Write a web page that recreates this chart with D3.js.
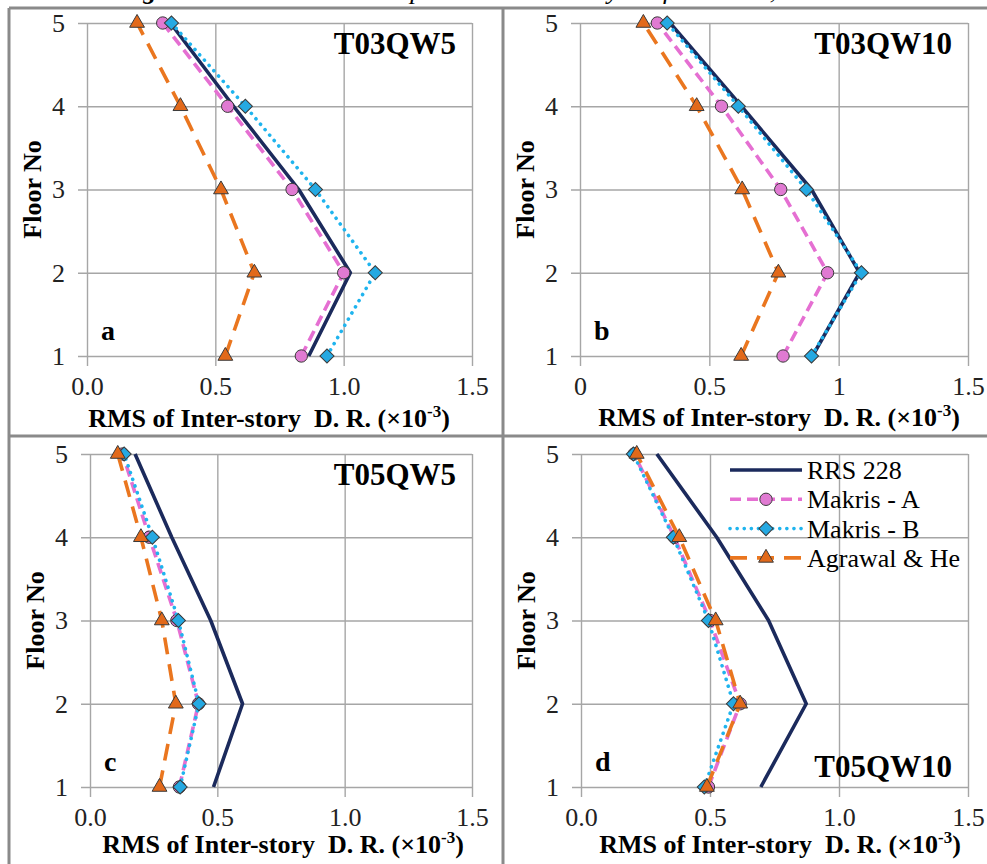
<!DOCTYPE html>
<html>
<head>
<meta charset="utf-8">
<script src="https://cdn.jsdelivr.net/npm/d3@7"></script>
<style>
  body { margin: 0; background: #fff; }
  svg { display: block; }
  svg text { font-family: "Liberation Serif", "Times New Roman", serif; }
</style>
</head>
<body>
<div id="chart"></div>
<script>
// floors and axis ticks
const floors = [1, 2, 3, 4, 5];
const xTicks = [0, 0.5, 1.0, 1.5];
const xLabelsDec = ["0.0", "0.5", "1.0", "1.5"];
const xLabelsInt = ["0", "0.5", "1", "1.5"];
const seriesNames = ["RRS 228", "Makris - A", "Makris - B", "Agrawal & He"];

// RMS values (x10^-3), floor 1..5
const t03qw5Rrs = [0.864, 1.026, 0.825, 0.571, 0.325];
const t03qw5MakA = [0.835, 1.000, 0.799, 0.548, 0.295];
const t03qw5MakB = [0.935, 1.123, 0.890, 0.617, 0.329];
const t03qw5Agr = [0.539, 0.652, 0.522, 0.364, 0.195];

const t03qw10Rrs = [0.899, 1.081, 0.895, 0.624, 0.348];
const t03qw10MakA = [0.785, 0.957, 0.776, 0.547, 0.299];
const t03qw10MakB = [0.895, 1.088, 0.875, 0.612, 0.337];
const t03qw10Agr = [0.623, 0.767, 0.627, 0.451, 0.245];

const t05qw5Rrs = [0.485, 0.599, 0.474, 0.321, 0.177];
const t05qw5MakA = [0.351, 0.426, 0.341, 0.233, 0.128];
const t05qw5MakB = [0.354, 0.428, 0.347, 0.245, 0.134];
const t05qw5Agr = [0.273, 0.337, 0.282, 0.200, 0.109];

const t05qw10Rrs = [0.697, 0.873, 0.727, 0.526, 0.294];
const t05qw10MakA = [0.494, 0.617, 0.500, 0.362, 0.206];
const t05qw10MakB = [0.478, 0.591, 0.494, 0.358, 0.203];
const t05qw10Agr = [0.488, 0.617, 0.522, 0.381, 0.216];

// words of the caption that is cut off above the figure
const captionWords = ["Fig. 9", "The RMS", "compared", "at each", "story", "of", "models,"];

const serif = "Liberation Serif, Times New Roman, serif";

// series styles
const styles = [
  { color: "#1b2a5c", dash: null, width: 3.6, marker: null },
  { color: "#e56fd2", dash: "11 6", width: 3.6, marker: "circle", fill: "#e07ad2" },
  { color: "#1fb4ee", dash: "0.1 7", width: 3.6, marker: "diamond", fill: "#25a9e2", cap: "round" },
  { color: "#ea761f", dash: "17 10", width: 3.6, marker: "triangle", fill: "#e2691a" }
];

// panel layout
const panels = [
  { letter: "a", title: "T03QW5", series: [t03qw5Rrs, t03qw5MakA, t03qw5MakB, t03qw5Agr],
    left: 87, right: 472, top: 23, bottom: 356, labels: xLabelsDec, labelX: 269, labelDy: 71, titleTop: true },
  { letter: "b", title: "T03QW10", series: [t03qw10Rrs, t03qw10MakA, t03qw10MakB, t03qw10Agr],
    left: 580, right: 968, top: 23, bottom: 356, labels: xLabelsInt, labelX: 779, labelDy: 70, titleTop: true },
  { letter: "c", title: "T05QW5", series: [t05qw5Rrs, t05qw5MakA, t05qw5MakB, t05qw5Agr],
    left: 90, right: 472, top: 454, bottom: 787, labels: xLabelsDec, labelX: 283, labelDy: 66, titleTop: true },
  { letter: "d", title: "T05QW10", series: [t05qw10Rrs, t05qw10MakA, t05qw10MakB, t05qw10Agr],
    left: 581, right: 968, top: 454, bottom: 787, labels: xLabelsDec, labelX: 780, labelDy: 66, titleTop: false, legend: true }
];

const svg = d3.select("#chart")
  .append("svg")
  .attr("width", 987)
  .attr("height", 864)
  .attr("font-family", serif);

// caption, only the descenders poke in below the top edge
const capX = [119, 210, 367, 478, 567, 650, 696];
const cap = svg.append("text")
  .attr("y", -1)
  .attr("font-size", 26)
  .attr("font-style", "italic");
captionWords.forEach((w, i) => {
  cap.append("tspan")
    .attr("x", capX[i])
    .attr("font-weight", i === 0 ? "bold" : null)
    .text(w);
});

// frame lines
const frame = svg.append("g").attr("stroke", "#8a8a8a").attr("stroke-width", 3);
frame.append("line").attr("x1", 9).attr("x2", 987).attr("y1", 8).attr("y2", 8);
frame.append("line").attr("x1", 9).attr("x2", 987).attr("y1", 436).attr("y2", 436);
frame.append("line").attr("x1", 9).attr("x2", 9).attr("y1", 8).attr("y2", 864);
frame.append("line").attr("x1", 503).attr("x2", 503).attr("y1", 8).attr("y2", 864);

function symbolPath(kind) {
  if (kind === "circle") return d3.symbol(d3.symbolCircle, 120)();
  if (kind === "diamond") return d3.symbol(d3.symbolSquare, 100)();
  return d3.symbol(d3.symbolTriangle, 95)();
}

panels.forEach(p => {
  const g = svg.append("g");
  const x = d3.scaleLinear().domain([0, 1.5]).range([p.left, p.right]);
  const y = d3.scaleLinear().domain([1, 5]).range([p.bottom, p.top]);

  // x grid + ticks + labels
  const xa = g.append("g")
    .attr("transform", "translate(0," + p.top + ")")
    .call(d3.axisBottom(x).tickValues(xTicks)
      .tickSize(p.bottom - p.top + 10).tickPadding(11)
      .tickFormat((d, i) => p.labels[i]));
  xa.attr("font-family", serif).attr("font-size", 26);
  xa.select(".domain").remove();
  xa.selectAll("line").attr("stroke", "#a6a6a6").attr("stroke-width", 1.4);
  xa.selectAll("text").attr("fill", "#222");

  // y grid + ticks + labels
  const ya = g.append("g")
    .attr("transform", "translate(" + p.right + ",0)")
    .call(d3.axisLeft(y).tickValues(floors)
      .tickSize(p.right - p.left + 9).tickPadding(13)
      .tickFormat(d3.format("d")));
  ya.attr("font-family", serif).attr("font-size", 26);
  ya.select(".domain").remove();
  ya.selectAll("line").attr("stroke", "#a6a6a6").attr("stroke-width", 1.4);
  ya.selectAll("text").attr("fill", "#222");

  // series lines and markers
  p.series.forEach((vals, si) => {
    const st = styles[si];
    const pts = vals.map((v, i) => [v, floors[i]]);
    const line = d3.line().x(d => x(d[0])).y(d => y(d[1]));
    g.append("path")
      .attr("d", line(pts))
      .attr("fill", "none")
      .attr("stroke", st.color)
      .attr("stroke-width", st.width)
      .attr("stroke-dasharray", st.dash)
      .attr("stroke-linecap", st.cap || "butt")
      .attr("stroke-linejoin", "round");
    if (st.marker) {
      g.selectAll(null)
        .data(pts)
        .join("path")
        .attr("d", symbolPath(st.marker))
        .attr("transform", d => "translate(" + x(d[0]) + "," + y(d[1]) + ")" + (st.marker === "diamond" ? " rotate(45)" : ""))
        .attr("fill", st.fill)
        .attr("stroke", "#3a3a3a")
        .attr("stroke-width", 1);
    }
  });

  // panel title
  g.append("text")
    .attr("x", p.right - 16)
    .attr("y", p.titleTop ? p.top + 31 : p.bottom - 10)
    .attr("text-anchor", "end")
    .attr("font-size", 31)
    .attr("font-weight", "bold")
    .text(p.title);

  // panel letter
  g.append("text")
    .attr("x", p.left + 14)
    .attr("y", p.bottom - 16)
    .attr("font-size", 28)
    .attr("font-weight", "bold")
    .text(p.letter);

  // X axis label
  const xl = g.append("text")
    .attr("x", p.labelX)
    .attr("y", p.bottom + p.labelDy)
    .attr("text-anchor", "middle")
    .attr("font-size", 26)
    .attr("font-weight", "bold")
    .style("white-space", "pre");
  xl.append("tspan").text("RMS of Inter-story  D. R. (\u00d710");
  xl.append("tspan").attr("dy", -10).attr("font-size", 17).text("-3");
  xl.append("tspan").attr("dy", 10).text(")");

  // Y axis label
  g.append("text")
    .attr("transform", "translate(" + (p.left - 55) + "," + ((p.top + p.bottom) / 2) + ") rotate(-90)")
    .attr("text-anchor", "middle")
    .attr("dy", "0.35em")
    .attr("font-size", 26)
    .attr("font-weight", "bold")
    .text("Floor No");

  // legend
  if (p.legend) {
    const lg = g.append("g");
    seriesNames.forEach((name, i) => {
      const st = styles[i];
      const ly = 470 + i * 29.3;
      lg.append("line")
        .attr("x1", 730).attr("x2", 802)
        .attr("y1", ly).attr("y2", ly)
        .attr("stroke", st.color)
        .attr("stroke-width", st.width)
        .attr("stroke-dasharray", st.dash)
        .attr("stroke-linecap", st.cap || "butt");
      if (st.marker) {
        lg.append("path")
          .attr("d", symbolPath(st.marker))
          .attr("transform", "translate(766," + ly + ")" + (st.marker === "diamond" ? " rotate(45)" : ""))
          .attr("fill", st.fill)
          .attr("stroke", "#3a3a3a")
          .attr("stroke-width", 1);
      }
      lg.append("text")
        .attr("x", 807)
        .attr("y", ly)
        .attr("dy", "0.35em")
        .attr("font-size", 26)
        .text(name);
    });
  }
});
</script>
</body>
</html>
